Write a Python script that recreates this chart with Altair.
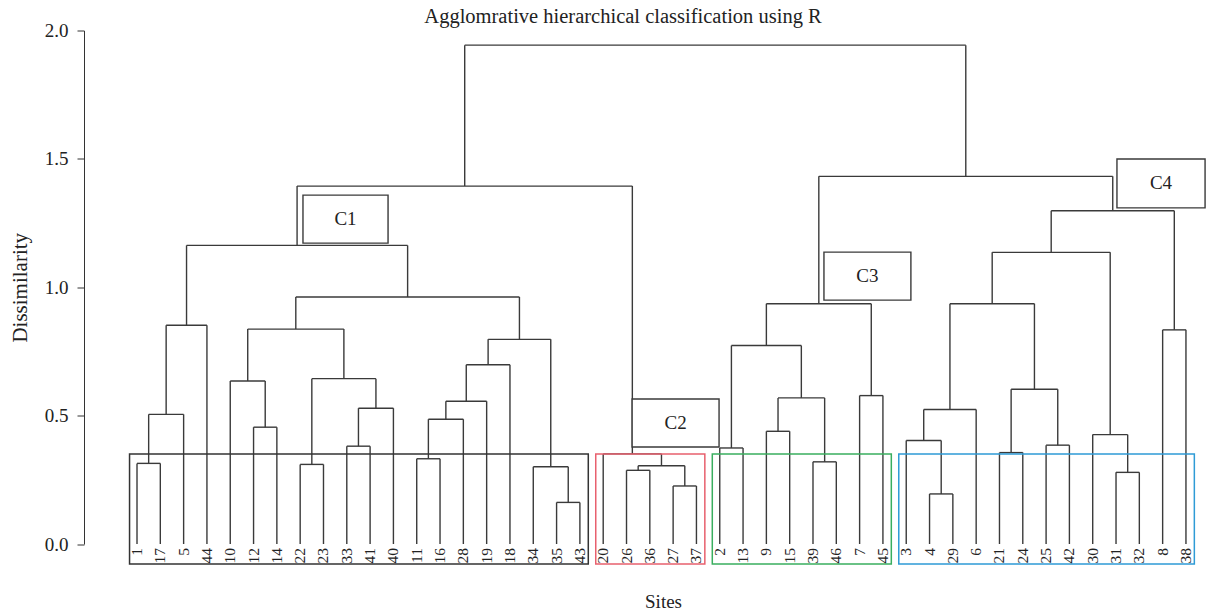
import altair as alt
import pandas as pd

# ---------------- data ----------------
leaf_order = ["1", "17", "5", "44", "10", "12", "14", "22", "23", "33", "41", "40",
              "11", "16", "28", "19", "18", "34", "35", "43",
              "20", "26", "36", "27", "37",
              "2", "13", "9", "15", "39", "46", "7", "45",
              "3", "4", "29", "6", "21", "24", "25", "42", "30", "31", "32", "8", "38"]

# merges in order: (left, right, height); "mK" refers to the K-th merge
merge_left = ["1", "m0", "m1", "12", "10", "22", "33", "m6", "m5", "m4",
              "11", "m10", "m11", "m12", "35", "34", "m13", "m9", "m2",
              "26", "27", "m19", "20", "m18",
              "2", "9", "39", "m25", "m24", "7", "m28",
              "4", "3", "m32", "21", "25", "m34", "m33", "31", "30", "m37", "8", "m40",
              "m30", "m23"]
merge_right = ["17", "5", "44", "14", "m3", "23", "41", "40", "m7", "m8",
               "16", "28", "19", "18", "43", "m14", "m15", "m16", "m17",
               "36", "37", "m20", "m21", "m22",
               "13", "15", "46", "m26", "m27", "45", "m29",
               "29", "m31", "6", "24", "42", "m35", "m36", "32", "m38", "m39", "38", "m41",
               "m42", "m43"]
merge_height = [0.314, 0.505, 0.852, 0.455, 0.635, 0.310, 0.381, 0.529, 0.644, 0.837,
                0.332, 0.486, 0.556, 0.698, 0.162, 0.301, 0.797, 0.962, 1.163,
                0.287, 0.226, 0.305, 0.351, 1.394,
                0.374, 0.439, 0.320, 0.569, 0.773, 0.578, 0.936,
                0.195, 0.403, 0.524, 0.356, 0.385, 0.603, 0.936, 0.279, 0.426, 1.136, 0.834, 1.298,
                1.432, 1.943]

# cluster groups (first leaf index, last leaf index)
group_names = ["C1", "C2", "C3", "C4"]
group_first = [0, 20, 25, 33]
group_last = [19, 24, 32, 45]
group_colors = ["#333333", "#e8606e", "#3aae5f", "#2e9bd6"]
group_cut = 0.351

# label boxes (leaf-index units, dissimilarity units)
label_x1 = [7.12, 21.24, 29.47, 42.04]
label_x2 = [10.77, 24.97, 33.20, 45.82]
label_y1 = [1.172, 0.378, 0.950, 1.309]
label_y2 = [1.359, 0.565, 1.137, 1.4995]

# ---------------- build segments ----------------
pos = {lab: float(i) for i, lab in enumerate(leaf_order)}
hgt = {lab: 0.0 for lab in leaf_order}
segs = []
for k, (l, r, h) in enumerate(zip(merge_left, merge_right, merge_height)):
    segs.append({"x": pos[l], "x2": pos[l], "y": hgt[l], "y2": h})
    segs.append({"x": pos[r], "x2": pos[r], "y": hgt[r], "y2": h})
    segs.append({"x": pos[l], "x2": pos[r], "y": h, "y2": h})
    pos[f"m{k}"] = (pos[l] + pos[r]) / 2
    hgt[f"m{k}"] = h
seg_df = pd.DataFrame(segs)

leaf_df = pd.DataFrame({"x": [float(i) for i in range(len(leaf_order))],
                        "y": [0.0] * len(leaf_order), "label": leaf_order})

grp_df = pd.DataFrame({
    "g": group_names,
    "x": [f - 0.32 for f in group_first],
    "x2": [l + 0.36 for l in group_last],
    "y": [-0.078] * 4,
    "y2": [group_cut] * 4,
})

lab_df = pd.DataFrame({"g": group_names, "x": label_x1, "x2": label_x2,
                       "y": label_y1, "y2": label_y2})
lab_df["xc"] = (lab_df["x"] + lab_df["x2"]) / 2
lab_df["yc"] = (lab_df["y"] + lab_df["y2"]) / 2

FONT = "Liberation Serif"
xscale = alt.Scale(domain=[-2.274, 45.86], nice=False, zero=False)
yscale = alt.Scale(domain=[0, 2], nice=False, zero=False)

xaxis = alt.Axis(labels=False, ticks=False, domain=False, grid=False,
                 title="Sites", titleFont=FONT, titleFontSize=19,
                 titleFontWeight="normal", titleColor="#222222",
                 titleX=579, titleY=63, titleBaseline="alphabetic")
yaxis = alt.Axis(values=[0, 0.5, 1.0, 1.5, 2.0], format=".1f", grid=False,
                 domainColor="#333333", tickColor="#333333", tickSize=7,
                 labelPadding=9, labelFont=FONT, labelFontSize=19,
                 labelColor="#222222", title="Dissimilarity",
                 titleFont=FONT, titleFontSize=21, titleFontWeight="normal",
                 titleColor="#222222", titleX=-64, titleY=256.75, titleAngle=270,
                 titleBaseline="middle", titleAlign="center")


def X(field):
    return alt.X(field, type="quantitative", scale=xscale, axis=xaxis, title="Sites")


def Y(field):
    return alt.Y(field, type="quantitative", scale=yscale, axis=yaxis,
                 title="Dissimilarity")


lines = alt.Chart(seg_df).mark_rule(color="#3a3a3a", strokeWidth=1.4).encode(
    x=X("x"), x2="x2", y=Y("y"), y2="y2",
)

boxes = alt.Chart(grp_df).mark_rect(fill="transparent", strokeWidth=1.5).encode(
    x=X("x"), x2="x2", y=Y("y"), y2="y2",
    stroke=alt.Color("g:N", scale=alt.Scale(domain=group_names, range=group_colors),
                     legend=None),
)

leaf_text = alt.Chart(leaf_df).mark_text(
    font=FONT, fontSize=15.5, angle=270, align="right", baseline="middle",
    dx=-4, color="#222222").encode(
    x=X("x"), y=Y("y"), text="label:N",
)

lab_boxes = alt.Chart(lab_df).mark_rect(fill="white", stroke="#3a3a3a",
                                        strokeWidth=1.4).encode(
    x=X("x"), x2="x2", y=Y("y"), y2="y2",
)

lab_text = alt.Chart(lab_df).mark_text(font=FONT, fontSize=19, color="#222222",
                                       baseline="middle", align="center").encode(
    x=X("xc"), y=Y("yc"), text="g:N",
)

chart = alt.layer(lines, boxes, leaf_text, lab_boxes, lab_text).properties(
    width=1122, height=513.5,
    autosize=alt.AutoSizeParams(type="none"),
    padding={"left": 84, "top": 30.5, "right": 0, "bottom": 70},
    title=alt.TitleParams("Agglomrative hierarchical classification using R",
                          font=FONT, fontSize=20.5, fontWeight="normal",
                          color="#222222", anchor="middle", frame="group",
                          dx=-22, dy=29, offset=7, baseline="alphabetic"),
    background="white",
).configure_view(stroke=None)

chart.save("out.html", embed_options={"renderer": "svg", "actions": False})
